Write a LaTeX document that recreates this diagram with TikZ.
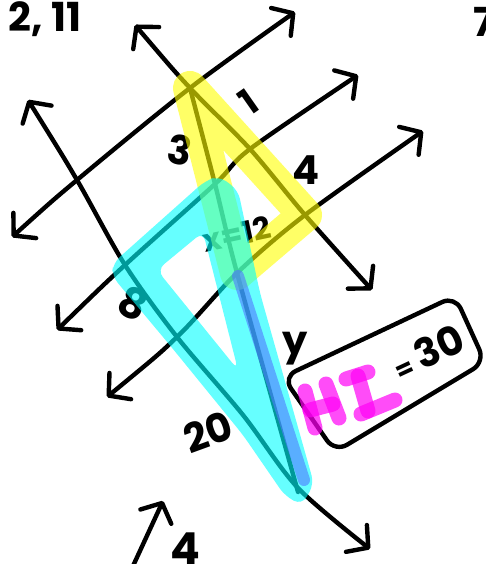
\documentclass[tikz,border=0pt]{standalone}
\usepackage{fontspec}
\setmainfont{Poppins}
\usetikzlibrary{arrows.meta}
\definecolor{hlyellow}{RGB}{255,255,0}
\definecolor{hlcyan}{RGB}{0,255,255}
\definecolor{hlblue}{RGB}{80,120,255}
\definecolor{hlmag}{RGB}{255,0,245}
\begin{document}
\begin{tikzpicture}[x=1pt,y=-1pt,line cap=round,line join=round,
  ink/.style={line width=4.4pt,draw=black},
  barb/.tip={Straight Barb[length=15pt,width=34pt,round]},
  lab/.style={inner sep=0pt,font=\fontsize{#1}{#1}\selectfont\bfseries},
  hl/.style={line width=34pt,draw opacity=0.6},
  mag/.style={line width=15pt,draw=hlmag,draw opacity=0.7}]
\useasboundingbox (0,0) rectangle (486,564);
% --- key points
\coordinate (a1) at (12,237);  \coordinate (a2) at (77,180);
\coordinate (a3) at (190,88);  \coordinate (a4) at (295,12);
\coordinate (b1) at (57,330);  \coordinate (b2) at (125,265);
\coordinate (b3) at (215,184); \coordinate (b4) at (250,149);
\coordinate (b5) at (358,75);
\coordinate (c1) at (107,397); \coordinate (c2) at (177,337);
\coordinate (c3) at (237,273); \coordinate (c4) at (305,215);
\coordinate (c5) at (423,131);
\coordinate (t1) at (135,25);  \coordinate (t5) at (372,290);
\coordinate (e1) at (298,492);
\coordinate (l1) at (28,100);  \coordinate (l5) at (243,415);
\coordinate (l6) at (298,488); \coordinate (l7) at (370,549);
\coordinate (u1) at (133,566); \coordinate (u2) at (163,501);
% --- black lines
\draw[ink,{barb}-{barb}] plot[smooth,tension=0.5] coordinates {(a1) (a2) (a3) (a4)};
\draw[ink,{barb}-{barb}] plot[smooth,tension=0.5] coordinates {(b1) (b2) (b3) (b4) (b5)};
\draw[ink,{barb}-{barb}] plot[smooth,tension=0.5] coordinates {(c1) (c2) (c3) (c4) (c5)};
\draw[ink,{barb}-{barb}] plot[smooth,tension=0.5] coordinates {(t1) (a3) (b4) (c4) (t5)};
\draw[ink] plot[smooth,tension=0.5] coordinates {(a3) (b3) (c3) (e1)};
\draw[ink,{barb}-{barb}] plot[smooth,tension=0.5] coordinates {(l1) (a2) (b2) (c2) (l5) (l6) (l7)};
\draw[ink,-{barb}] (u1) -- (u2);
% --- labels
\node[lab=40] (n211) at (45,19) {2, 11};
\node[lab=40] (n7) at (484,22) {7};
\node[lab=36,rotate=35] (n1) at (249,102) {1};
\node[lab=40,rotate=-10] (n3) at (180,150) {3};
\node[lab=40] (n4) at (306,170) {4};
\node[lab=31,rotate=12] (nx) at (237,234) {x=12};
\node[lab=42,rotate=-25] (n8) at (133,303) {8};
\node[lab=40] (ny) at (295,349) {y};
\node[lab=40,rotate=20] (n20) at (208,432) {20};
\node[lab=44] (nu) at (185,549) {4};
% --- highlights
\draw[hl,draw=hlyellow] (a3) -- (c4) -- (c3) -- cycle;
\fill[hlcyan,fill opacity=0.6,even odd rule,rounded corners=9pt]
  (113,263) -- (205,181) -- (219,176) -- (238,190) -- (260,293)
  -- (314,484) -- (302,505) -- (285,496) -- (243,435) -- (173,349)
  -- (112,276) -- cycle
  (157,270) -- (203,232) -- (238,370) -- cycle;
\coordinate (bl1) at (238,276); \coordinate (bl2) at (304,480);
\draw[line width=12pt,draw=hlblue,draw opacity=0.6] (bl1) -- (bl2);
% --- HI = 30 box
\coordinate (q1) at (283,377); \coordinate (q2) at (455,296);
\coordinate (q3) at (485,362); \coordinate (q4) at (335,452);
\draw[ink,rounded corners=14pt] (q1) -- (q2) -- (q3) -- (q4) -- cycle;
\draw[mag] (305,391) -- (315,428);
\draw[mag] (326,384) -- (339,418);
\draw[mag] (310,410) -- (333,404);
\draw[mag] (346,379) -- (368,372);
\draw[mag] (358,376) -- (368,411);
\draw[mag] (361,414) -- (395,400);
\node[lab=40,rotate=25] (n30) at (428,352) {{\fontsize{26}{26}\selectfont =}\,30};
\end{tikzpicture}
\end{document}
